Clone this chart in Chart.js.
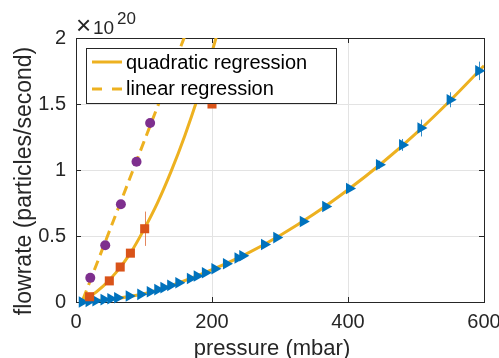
<!DOCTYPE html>
<html>
<head>
<meta charset="utf-8">
<script src="https://cdn.jsdelivr.net/npm/chart.js@4.4.1/dist/chart.umd.min.js"></script>
<style>
  html, body { margin: 0; padding: 0; background: #fff; }
  #wrap { width: 499px; height: 358px; position: relative; }
</style>
</head>
<body>
<div id="wrap"><canvas id="graphFlow"></canvas></div>
<script>
// ==== Data (flowrate in units of 1e20 particles/second) ====
var blueX = [9, 19, 29, 41, 51, 61, 78, 95, 109, 120, 129, 139, 151, 168, 178, 190, 204, 221, 238, 245, 277, 295, 334, 367, 402, 446, 480, 507, 550, 592]
var blueY = [0.0, 0.005, 0.01, 0.018, 0.025, 0.032, 0.045, 0.058, 0.078, 0.094, 0.109, 0.126, 0.146, 0.178, 0.197, 0.222, 0.252, 0.29, 0.333, 0.35, 0.436, 0.488, 0.61, 0.724, 0.86, 1.04, 1.19, 1.318, 1.532, 1.751]
var blueErr = [0, 0, 0, 0, 0, 0, 0, 0, 0, 0, 0, 0, 0, 0, 0, 0, 0, 0, 0, 0, 0, 0, 0, 0.01, 0.02, 0.03, 0.045, 0.064, 0.057, 0.07]

var orangeX = [20, 49, 65, 80, 101, 200]
var orangeY = [0.04, 0.16, 0.265, 0.37, 0.555, 1.5]
var orangeErr = [0, 0, 0, 0, 0.13, 0]

var purpleX = [21, 43, 66, 89, 109]
var purpleY = [0.183, 0.43, 0.74, 1.062, 1.356]

// regression curves
var quadBlueX = [10, 50, 100, 150, 200, 250, 300, 350, 400, 450, 500, 550, 600]
var quadBlueY = [0.0, 0.02, 0.062, 0.143, 0.245, 0.363, 0.504, 0.666, 0.85, 1.053, 1.278, 1.525, 1.79]
var quadOrangeX = [8, 20, 40, 60, 80, 100, 120, 140, 160, 180, 200, 210]
var quadOrangeY = [0.008, 0.04, 0.12, 0.23, 0.37, 0.55, 0.753, 0.991, 1.26, 1.562, 1.895, 2.074]
var linPurpleX = [10, 160]
var linPurpleY = [0.016, 2.014]

var xTicks = [0, 200, 400, 600]
var xTickLabels = ['0', '200', '400', '600']
var yTicks = [0, 0.5, 1, 1.5, 2]
var yTickLabels = ['0', '0.5', '1', '1.5', '2']

var legendLabels = ['quadratic regression', 'linear regression']

function pts(xs, ys){
    return xs.map(function(x, i){ return {x: x, y: ys[i]} })
}

var FONT = '"Liberation Sans", Arial, Helvetica, sans-serif'
var YELLOW = '#EDB120'

// ==== Plugin: axes box, inward ticks, error bars, legend, titles ====
var matlabLook = {
    id: 'matlabLook',
    beforeDatasetsDraw: function(chart){
        var ctx = chart.ctx, a = chart.chartArea
        var xs = chart.scales.x, ys = chart.scales.y
        ctx.save()
        ctx.strokeStyle = '#262626'
        ctx.lineWidth = 1
        ctx.strokeRect(Math.round(a.left) + 0.5, Math.round(a.top) + 0.5,
                       Math.round(a.right - a.left), Math.round(a.bottom - a.top))
        ctx.beginPath()
        xTicks.forEach(function(v){
            var px = Math.round(xs.getPixelForValue(v)) + 0.5
            ctx.moveTo(px, a.bottom); ctx.lineTo(px, a.bottom - 5)
            ctx.moveTo(px, a.top); ctx.lineTo(px, a.top + 5)
        })
        yTicks.forEach(function(v){
            var py = Math.round(ys.getPixelForValue(v)) + 0.5
            ctx.moveTo(a.left, py); ctx.lineTo(a.left + 5, py)
            ctx.moveTo(a.right, py); ctx.lineTo(a.right - 5, py)
        })
        ctx.stroke()
        ctx.restore()
    },
    afterDatasetsDraw: function(chart){
        var ctx = chart.ctx
        var xs = chart.scales.x, ys = chart.scales.y
        ctx.save()

        // error bars
        function bars(xa, ya, ea, color){
            ctx.strokeStyle = color
            ctx.lineWidth = 1
            ctx.beginPath()
            xa.forEach(function(x, i){
                if (!ea[i]) return
                var px = Math.round(xs.getPixelForValue(x)) + 0.5
                ctx.moveTo(px, ys.getPixelForValue(ya[i] - ea[i]))
                ctx.lineTo(px, ys.getPixelForValue(ya[i] + ea[i]))
            })
            ctx.stroke()
        }
        bars(blueX, blueY, blueErr, 'rgba(0,114,189,0.8)')
        bars(orangeX, orangeY, orangeErr, 'rgba(217,83,25,0.7)')

        // legend
        ctx.fillStyle = '#fff'
        ctx.fillRect(86, 48, 250, 55)
        ctx.strokeStyle = '#262626'
        ctx.lineWidth = 1
        ctx.strokeRect(86.5, 48.5, 250, 55)
        ctx.strokeStyle = YELLOW
        ctx.lineWidth = 3
        ctx.beginPath(); ctx.moveTo(92, 62); ctx.lineTo(122, 62); ctx.stroke()
        ctx.beginPath(); ctx.moveTo(92, 89); ctx.lineTo(102, 89)
        ctx.moveTo(112, 89); ctx.lineTo(122, 89); ctx.stroke()
        ctx.fillStyle = '#000'
        ctx.font = '20px ' + FONT
        ctx.textBaseline = 'alphabetic'
        ctx.textAlign = 'left'
        ctx.fillText(legendLabels[0], 126, 68.5)
        ctx.fillText(legendLabels[1], 126, 95)

        // axis titles
        ctx.fillStyle = '#262626'
        ctx.font = '22px ' + FONT
        ctx.textAlign = 'center'
        ctx.fillText('pressure (mbar)', 272, 355)
        ctx.save()
        ctx.translate(31, 181)
        ctx.rotate(-Math.PI / 2)
        ctx.font = '23px ' + FONT
        ctx.fillText('flowrate (particles/second)', 0, 0)
        ctx.restore()

        // exponent
        ctx.textAlign = 'left'
        ctx.font = '26px ' + FONT
        ctx.fillText('\u00d7', 76, 34)
        ctx.font = '19px ' + FONT
        ctx.fillText('10', 93, 33.5)
        ctx.font = '17px ' + FONT
        ctx.fillText('20', 117, 24)
        ctx.restore()
    }
}

var config = {
    type: 'scatter',
    data: {
        datasets: [
            { data: pts(purpleX, purpleY), pointStyle: 'circle', pointRadius: 5,
              backgroundColor: '#7E2F8E', borderWidth: 0, clip: false },
            { data: pts(orangeX, orangeY), pointStyle: 'rect', pointRadius: 6.4,
              backgroundColor: '#D95319', borderWidth: 0, clip: false },
            { data: pts(blueX, blueY), pointStyle: 'triangle', pointRotation: 90, pointRadius: 6.7,
              backgroundColor: '#0072BD', borderWidth: 0, clip: false },
            { data: pts(quadOrangeX, quadOrangeY), showLine: true, pointRadius: 0,
              borderColor: YELLOW, borderWidth: 3, cubicInterpolationMode: 'monotone' },
            { data: pts(quadBlueX, quadBlueY), showLine: true, pointRadius: 0,
              borderColor: YELLOW, borderWidth: 3, cubicInterpolationMode: 'monotone' },
            { data: pts(linPurpleX, linPurpleY), showLine: true, pointRadius: 0,
              borderColor: YELLOW, borderWidth: 3, borderDash: [10, 6] },
        ],
    },
    options: {
        responsive: true,
        maintainAspectRatio: false,
        animation: false,
        events: [],
        layout: { padding: { top: 38, right: 15, left: 0, bottom: 0 } },
        plugins: { legend: false, tooltip: { enabled: false } },
        scales: {
            x: {
                type: 'linear', min: 0, max: 600,
                afterBuildTicks: function(s){ s.ticks = xTicks.map(function(v){ return {value: v} }) },
                afterFit: function(s){ s.height = 56; s.paddingLeft = 0; s.paddingRight = 0 },
                ticks: {
                    padding: 8, maxRotation: 0, autoSkip: false, color: '#262626',
                    font: { family: FONT, size: 20 },
                    callback: function(v){ return xTickLabels[xTicks.indexOf(v)] }
                },
                grid: { color: '#e3e3e3', drawTicks: false },
                border: { display: false }
            },
            y: {
                type: 'linear', min: 0, max: 2,
                afterBuildTicks: function(s){ s.ticks = yTicks.map(function(v){ return {value: v} }) },
                afterFit: function(s){ s.width = 76; s.paddingTop = 0; s.paddingBottom = 0 },
                ticks: {
                    padding: 10, autoSkip: false, color: '#262626',
                    font: { family: FONT, size: 20 },
                    callback: function(v){ return yTickLabels[yTicks.indexOf(v)] }
                },
                grid: { color: '#e3e3e3', drawTicks: false },
                border: { display: false }
            }
        }
    },
    plugins: [matlabLook]
}

const flowGraph = document.getElementById('graphFlow').getContext('2d')
new Chart(flowGraph, config)
</script>
</body>
</html>
